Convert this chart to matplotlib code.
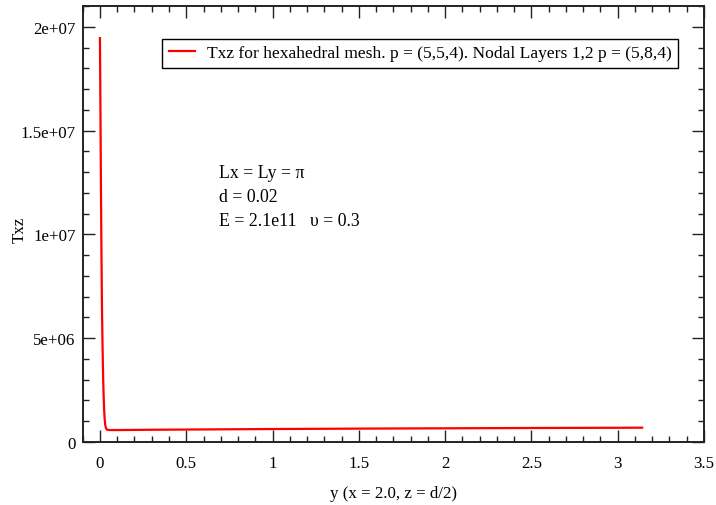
import matplotlib
matplotlib.use("Agg")
import matplotlib.pyplot as plt
from matplotlib.ticker import MultipleLocator

plt.rcParams['font.family'] = ['Liberation Serif', 'DejaVu Serif']
plt.rcParams['mathtext.fontset'] = 'stix'

# data (y position along edge, Txz value)
y_pos = [0.0, 0.002, 0.004, 0.006, 0.008, 0.010, 0.012, 0.015, 0.018, 0.021,
         0.024, 0.027, 0.030, 0.035, 0.040, 0.048, 0.07, 0.1, 0.3, 0.5,
         1.0, 1.5, 2.0, 2.5, 3.0, 3.1416]
txz = [19.45e6, 17.0e6, 14.5e6, 12.0e6, 9.8e6, 7.9e6, 6.3e6, 4.6e6, 3.3e6, 2.3e6,
       1.6e6, 1.15e6, 0.85e6, 0.66e6, 0.60e6, 0.58e6, 0.575e6, 0.575e6, 0.59e6, 0.60e6,
       0.625e6, 0.645e6, 0.66e6, 0.675e6, 0.685e6, 0.69e6]

legend_label = "Txz for hexahedral mesh. p = (5,5,4). Nodal Layers 1,2 p = (5,8,4)"
annot_lines = ["Lx = Ly = \u03c0", "d = 0.02", "E = 2.1e11   \u03c5 = 0.3"]

fig = plt.figure(figsize=(7.16, 5.06), dpi=100)
ax = fig.add_axes([0.1155, 0.1245, 0.8677, 0.8617])

ax.plot(y_pos, txz, color='#ff0000', lw=1.6, label=legend_label)

ax.set_xlim(-0.1, 3.5)
ax.set_ylim(0, 2.1e7)
ax.xaxis.set_major_locator(MultipleLocator(0.5))
ax.xaxis.set_minor_locator(MultipleLocator(0.1))
ax.yaxis.set_major_locator(MultipleLocator(5e6))
ax.yaxis.set_minor_locator(MultipleLocator(1e6))

def xfmt(v, p):
    return f"{v:g}"
def yfmt(v, p):
    if v == 0:
        return "0"
    m, e = f"{v:.1e}".split("e")
    m = m.rstrip("0").rstrip(".")
    return f"{m}e+{int(e):02d}"

ax.xaxis.set_major_formatter(plt.FuncFormatter(xfmt))
ax.yaxis.set_major_formatter(plt.FuncFormatter(yfmt))

ax.tick_params(which='both', direction='in', top=True, right=True, labelsize=12.2, color='#222222')
ax.tick_params(which='major', length=8.6, width=1.0)
ax.tick_params(which='minor', length=4.3, width=1.0)
ax.tick_params(axis='x', which='major', pad=9)
ax.tick_params(axis='y', which='major', pad=5)
for s in ax.spines.values():
    s.set_linewidth(1.4)
    s.set_color('#222222')

ax.set_xlabel("y (x = 2.0, z = d/2)", fontsize=12.2)
ax.set_ylabel("Txz", fontsize=12.2)
ax.xaxis.set_label_coords(0.5, -0.117)
ax.yaxis.set_label_coords(-0.101, 0.49)
ax.xaxis.label.set_va('center')
ax.yaxis.label.set_va('center')

leg = ax.legend(loc='upper right', bbox_to_anchor=(0.958, 0.924), fontsize=12.6,
                fancybox=False, framealpha=1, edgecolor='black', handlelength=1.5,
                handletextpad=0.7, borderpad=0.35, borderaxespad=0)
leg.get_frame().set_linewidth(1.0)

ys = [0.617, 0.563, 0.508]
for t, yy in zip(annot_lines, ys):
    ax.text(0.219, yy, t, transform=ax.transAxes, fontsize=12.8, va='center', ha='left')

fig.savefig("out.png", dpi=100)
